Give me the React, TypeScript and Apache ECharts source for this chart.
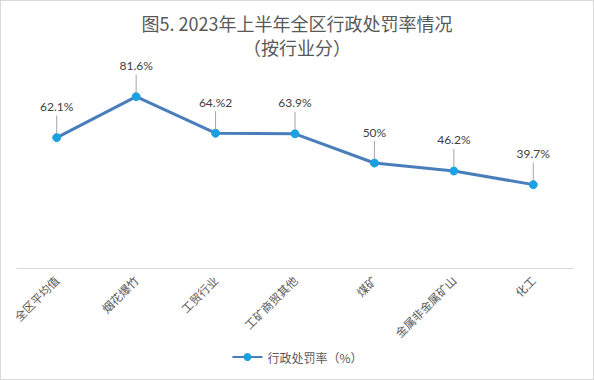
import React, { useEffect, useRef } from "react";
import * as echarts from "echarts";

const categories = ["全区平均值", "烟花爆竹", "工贸行业", "工矿商贸其他", "煤矿", "金属非金属矿山", "化工"];
const values = [62.1, 81.6, 64.2, 63.9, 50, 46.2, 39.7];
const valueLabels = ["62.1%", "81.6%", "64.%2", "63.9%", "50%", "46.2%", "39.7%"];
const seriesName = "行政处罚率（%）";
const titleText = "图5. 2023年上半年全区行政处罚率情况\n（按行业分）";

export default function App() {
  const ref = useRef<HTMLDivElement>(null);
  useEffect(() => {
    if (!ref.current) return;
    const chart = echarts.init(ref.current, undefined, { renderer: "svg" });
    const font = '"Noto Sans CJK SC", sans-serif';
    chart.setOption({
      animation: false,
      backgroundColor: "#ffffff",
      title: {
        text: titleText,
        left: "center",
        top: 5,
        textStyle: { fontSize: 18, fontWeight: "normal", color: "#595959", fontFamily: font, lineHeight: 24 },
      },
      legend: {
        bottom: 11,
        left: "center",
        itemWidth: 30,
        itemHeight: 10,
        itemGap: 10,
        textStyle: { fontSize: 12, color: "#595959", fontFamily: font },
        data: [seriesName],
      },
      grid: { left: 16, right: 20, top: 57, bottom: 111, containLabel: false },
      xAxis: {
        type: "category",
        data: categories,
        boundaryGap: true,
        axisLine: { lineStyle: { color: "#d9d9d9", width: 1 } },
        axisTick: { show: false },
        axisLabel: { rotate: 45, fontSize: 11.5, color: "#595959", fontFamily: font, margin: 10, interval: 0 },
      },
      yAxis: {
        type: "value",
        min: 0,
        max: 100,
        show: false,
        splitLine: { show: false },
      },
      series: [
        {
          name: seriesName,
          type: "line",
          data: values,
          symbol: "circle",
          symbolSize: 8,
          lineStyle: { color: "#4a7ebb", width: 3 },
          itemStyle: { color: "#1ba1e2", borderColor: "#1ba1e2" },
          label: { show: false },
          z: 3,
        },
        {
          name: "labels",
          type: "custom",
          data: values.map((v, i) => [i, v]),
          z: 4,
          renderItem: (params: any, api: any) => {
            const p = api.coord([api.value(0), api.value(1)]);
            const idx = params.dataIndex;
            return {
              type: "group",
              children: [
                {
                  type: "line",
                  shape: { x1: p[0], y1: p[1] - 4, x2: p[0], y2: p[1] - 22 },
                  style: { stroke: "#a6a6a6", lineWidth: 1 },
                },
                {
                  type: "text",
                  x: p[0],
                  y: p[1] - 31,
                  style: {
                    text: valueLabels[idx],
                    align: "center",
                    verticalAlign: "middle",
                    fill: "#404040",
                    fontSize: 12,
                    fontFamily: "Lato, sans-serif",
                  },
                },
              ],
            };
          },
        },
      ],
    });
    return () => chart.dispose();
  }, []);
  return (
    <div
      ref={ref}
      style={{
        position: "fixed",
        left: 0,
        top: 0,
        width: 594,
        height: 380,
        boxSizing: "border-box",
        border: "1px solid #d9d9d9",
      }}
    />
  );
}
